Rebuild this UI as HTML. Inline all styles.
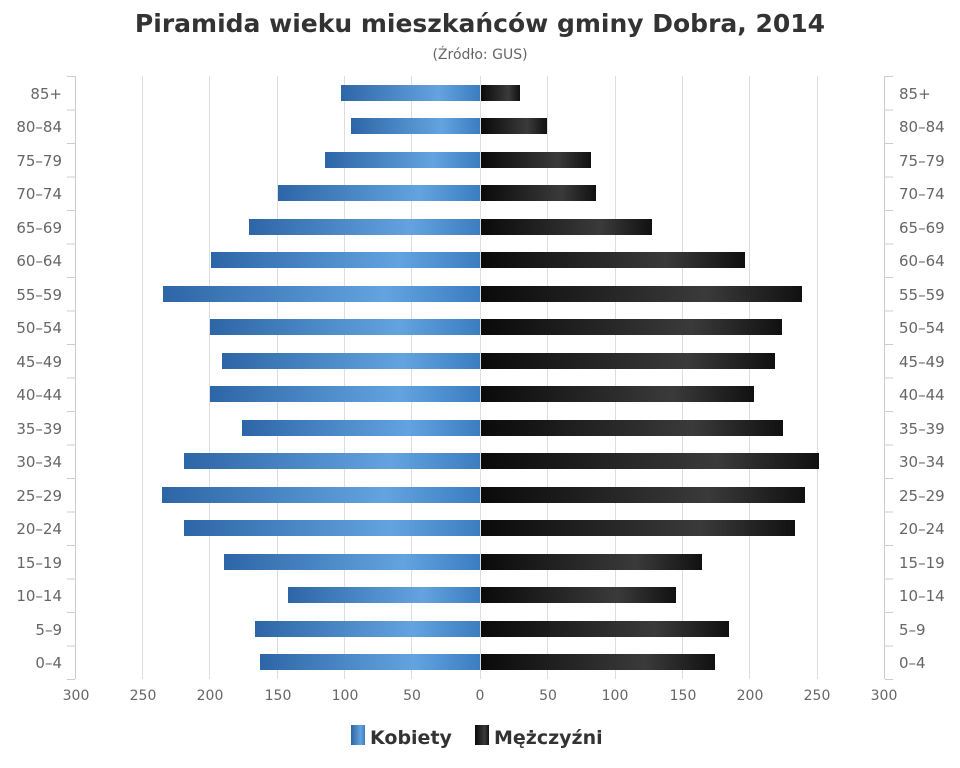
<!DOCTYPE html>
<html><head><meta charset="utf-8"><style>
body{margin:0;background:#fff}
svg{display:block;font-family:"DejaVu Sans","Liberation Sans",sans-serif}
</style></head><body>
<svg width="960" height="768" viewBox="0 0 960 768" xmlns="http://www.w3.org/2000/svg">
<defs>
<linearGradient id="b" x1="0" x2="1" y1="0" y2="0"><stop offset="0" stop-color="#2d66a6"/><stop offset="0.7" stop-color="#63a3e0"/><stop offset="1" stop-color="#3c7dc0"/></linearGradient>
<linearGradient id="k" x1="0" x2="1" y1="0" y2="0"><stop offset="0" stop-color="#0a0a0a"/><stop offset="0.7" stop-color="#3a3a3a"/><stop offset="1" stop-color="#111"/></linearGradient>
<linearGradient id="v" x1="0" x2="0" y1="0" y2="1"><stop offset="0" stop-color="#fff" stop-opacity="0.15"/><stop offset="0.5" stop-color="#fff" stop-opacity="0"/><stop offset="1" stop-color="#000" stop-opacity="0.15"/></linearGradient>
</defs>
<text x="480" y="32" text-anchor="middle" font-size="25" font-weight="bold" fill="#333">Piramida wieku mieszkańców gminy Dobra, 2014</text>
<text x="480" y="59" text-anchor="middle" font-size="14" fill="#666">(Źródło: GUS)</text>
<g stroke="#ddd" stroke-width="1">
<line x1="142.5" y1="76" x2="142.5" y2="679"/><line x1="209.5" y1="76" x2="209.5" y2="679"/><line x1="277.5" y1="76" x2="277.5" y2="679"/><line x1="344.5" y1="76" x2="344.5" y2="679"/><line x1="411.5" y1="76" x2="411.5" y2="679"/><line x1="480.5" y1="76" x2="480.5" y2="679"/><line x1="547.5" y1="76" x2="547.5" y2="679"/><line x1="615.5" y1="76" x2="615.5" y2="679"/><line x1="682.5" y1="76" x2="682.5" y2="679"/><line x1="749.5" y1="76" x2="749.5" y2="679"/><line x1="817.5" y1="76" x2="817.5" y2="679"/>
</g>
<g stroke="#ccc" stroke-width="1">
<line x1="75.5" y1="76" x2="75.5" y2="679"/><line x1="884.5" y1="76" x2="884.5" y2="679"/>
<line x1="67" y1="76.5" x2="75" y2="76.5"/><line x1="67" y1="110" x2="75" y2="110"/><line x1="67" y1="143.5" x2="75" y2="143.5"/><line x1="67" y1="177" x2="75" y2="177"/><line x1="67" y1="210.5" x2="75" y2="210.5"/><line x1="67" y1="244" x2="75" y2="244"/><line x1="67" y1="277.5" x2="75" y2="277.5"/><line x1="67" y1="311" x2="75" y2="311"/><line x1="67" y1="344.5" x2="75" y2="344.5"/><line x1="67" y1="378" x2="75" y2="378"/><line x1="67" y1="411.5" x2="75" y2="411.5"/><line x1="67" y1="445" x2="75" y2="445"/><line x1="67" y1="478.5" x2="75" y2="478.5"/><line x1="67" y1="512" x2="75" y2="512"/><line x1="67" y1="545.5" x2="75" y2="545.5"/><line x1="67" y1="579" x2="75" y2="579"/><line x1="67" y1="612.5" x2="75" y2="612.5"/><line x1="67" y1="646" x2="75" y2="646"/><line x1="67" y1="679.5" x2="75" y2="679.5"/>
<line x1="885" y1="76.5" x2="893" y2="76.5"/><line x1="885" y1="110" x2="893" y2="110"/><line x1="885" y1="143.5" x2="893" y2="143.5"/><line x1="885" y1="177" x2="893" y2="177"/><line x1="885" y1="210.5" x2="893" y2="210.5"/><line x1="885" y1="244" x2="893" y2="244"/><line x1="885" y1="277.5" x2="893" y2="277.5"/><line x1="885" y1="311" x2="893" y2="311"/><line x1="885" y1="344.5" x2="893" y2="344.5"/><line x1="885" y1="378" x2="893" y2="378"/><line x1="885" y1="411.5" x2="893" y2="411.5"/><line x1="885" y1="445" x2="893" y2="445"/><line x1="885" y1="478.5" x2="893" y2="478.5"/><line x1="885" y1="512" x2="893" y2="512"/><line x1="885" y1="545.5" x2="893" y2="545.5"/><line x1="885" y1="579" x2="893" y2="579"/><line x1="885" y1="612.5" x2="893" y2="612.5"/><line x1="885" y1="646" x2="893" y2="646"/><line x1="885" y1="679.5" x2="893" y2="679.5"/>
</g>
<g fill="url(#b)">
<rect x="341" y="85" width="139" height="16"/>
<rect x="351" y="118" width="129" height="16"/>
<rect x="325" y="152" width="155" height="16"/>
<rect x="278" y="185" width="202" height="16"/>
<rect x="249" y="219" width="231" height="16"/>
<rect x="211" y="252" width="269" height="16"/>
<rect x="163" y="286" width="317" height="16"/>
<rect x="210" y="319" width="270" height="16"/>
<rect x="222" y="353" width="258" height="16"/>
<rect x="210" y="386" width="270" height="16"/>
<rect x="242" y="420" width="238" height="16"/>
<rect x="184" y="453" width="296" height="16"/>
<rect x="162" y="487" width="318" height="16"/>
<rect x="184" y="520" width="296" height="16"/>
<rect x="224" y="554" width="256" height="16"/>
<rect x="288" y="587" width="192" height="16"/>
<rect x="255" y="621" width="225" height="16"/>
<rect x="260" y="654" width="220" height="16"/>
</g>
<g fill="url(#k)">
<rect x="481" y="85" width="39" height="16"/>
<rect x="481" y="118" width="66" height="16"/>
<rect x="481" y="152" width="110" height="16"/>
<rect x="481" y="185" width="115" height="16"/>
<rect x="481" y="219" width="171" height="16"/>
<rect x="481" y="252" width="264" height="16"/>
<rect x="481" y="286" width="321" height="16"/>
<rect x="481" y="319" width="301" height="16"/>
<rect x="481" y="353" width="294" height="16"/>
<rect x="481" y="386" width="273" height="16"/>
<rect x="481" y="420" width="302" height="16"/>
<rect x="481" y="453" width="338" height="16"/>
<rect x="481" y="487" width="324" height="16"/>
<rect x="481" y="520" width="314" height="16"/>
<rect x="481" y="554" width="221" height="16"/>
<rect x="481" y="587" width="195" height="16"/>
<rect x="481" y="621" width="248" height="16"/>
<rect x="481" y="654" width="234" height="16"/>
</g>
<g font-size="15" fill="#666" text-anchor="end">
<text x="62" y="99">85+</text><text x="62" y="132">80–84</text><text x="62" y="166">75–79</text><text x="62" y="199">70–74</text><text x="62" y="233">65–69</text><text x="62" y="266">60–64</text><text x="62" y="300">55–59</text><text x="62" y="333">50–54</text><text x="62" y="367">45–49</text><text x="62" y="400">40–44</text><text x="62" y="434">35–39</text><text x="62" y="467">30–34</text><text x="62" y="501">25–29</text><text x="62" y="534">20–24</text><text x="62" y="568">15–19</text><text x="62" y="601">10–14</text><text x="62" y="635">5–9</text><text x="62" y="668">0–4</text>
</g>
<g font-size="15" fill="#666">
<text x="899" y="99">85+</text><text x="899" y="132">80–84</text><text x="899" y="166">75–79</text><text x="899" y="199">70–74</text><text x="899" y="233">65–69</text><text x="899" y="266">60–64</text><text x="899" y="300">55–59</text><text x="899" y="333">50–54</text><text x="899" y="367">45–49</text><text x="899" y="400">40–44</text><text x="899" y="434">35–39</text><text x="899" y="467">30–34</text><text x="899" y="501">25–29</text><text x="899" y="534">20–24</text><text x="899" y="568">15–19</text><text x="899" y="601">10–14</text><text x="899" y="635">5–9</text><text x="899" y="668">0–4</text>
</g>
<g font-size="14" fill="#666" text-anchor="middle">
<text x="76" y="700">300</text><text x="143" y="700">250</text><text x="210" y="700">200</text><text x="278" y="700">150</text><text x="345" y="700">100</text><text x="412" y="700">50</text><text x="480" y="700">0</text><text x="548" y="700">50</text><text x="615" y="700">100</text><text x="683" y="700">150</text><text x="750" y="700">200</text><text x="817" y="700">250</text><text x="884" y="700">300</text>
</g>
<rect x="351" y="725" width="14" height="20" fill="url(#b)"/>
<text x="370" y="744" font-size="19" font-weight="bold" fill="#333">Kobiety</text>
<rect x="475" y="725" width="14" height="20" fill="url(#k)"/>
<text x="494" y="744" font-size="19" font-weight="bold" fill="#333">Mężczyźni</text>
</svg>
</body></html>
